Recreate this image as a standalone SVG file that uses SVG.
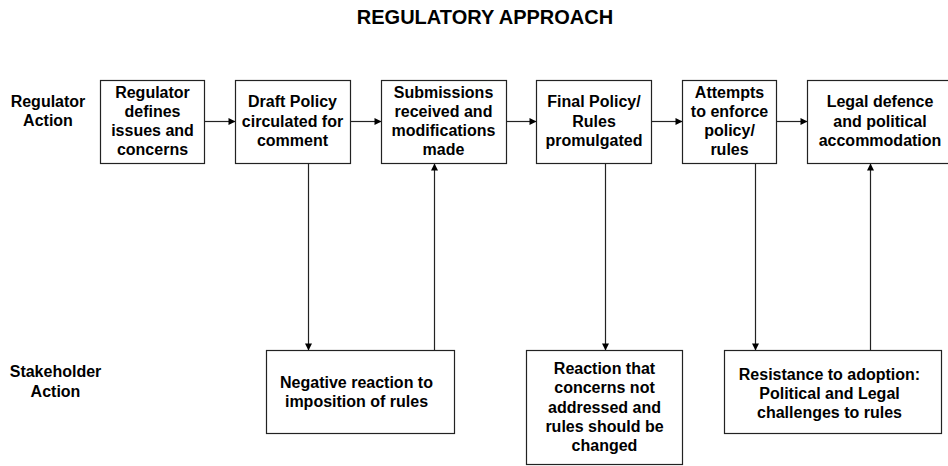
<svg xmlns="http://www.w3.org/2000/svg" width="948" height="466" viewBox="0 0 948 466">
<defs>
<style>
.box{fill:#fff;stroke:#222;stroke-width:1.2}
.t{font-family:"Liberation Sans",Arial,sans-serif;font-weight:bold;font-size:16px;fill:#000;text-anchor:middle}
.title{font-size:20px}
.c{fill:none;stroke:#222;stroke-width:1.2}
</style>
<marker id="ah" viewBox="0 0 10 10" refX="10" refY="5" markerWidth="8" markerHeight="7" markerUnits="userSpaceOnUse" orient="auto">
<path d="M0,0 L10,5 L0,10 z" fill="#000"/>
</marker>
</defs>
<rect width="948" height="466" fill="#fff"/>
<text class="t title" x="485" y="24">REGULATORY APPROACH</text>
<g id="label-regulator"><text class="t" x="48" y="106.7">Regulator</text><text class="t" x="48" y="126">Action</text></g>
<g id="label-stakeholder"><text class="t" x="55.5" y="376.7">Stakeholder</text><text class="t" x="55.5" y="396.7">Action</text></g>
<g id="connectors">
<line class="c" x1="204.5" y1="121.5" x2="235.5" y2="121.5" marker-end="url(#ah)"/>
<line class="c" x1="350.5" y1="121.5" x2="381.5" y2="121.5" marker-end="url(#ah)"/>
<line class="c" x1="506.5" y1="121.5" x2="536.5" y2="121.5" marker-end="url(#ah)"/>
<line class="c" x1="651.5" y1="121.5" x2="682.5" y2="121.5" marker-end="url(#ah)"/>
<line class="c" x1="776.5" y1="121.5" x2="807.5" y2="121.5" marker-end="url(#ah)"/>
<line class="c" x1="308.5" y1="163.5" x2="308.5" y2="350.5" marker-end="url(#ah)"/>
<line class="c" x1="434.5" y1="350.5" x2="434.5" y2="163.5" marker-end="url(#ah)"/>
<line class="c" x1="605.5" y1="163.5" x2="605.5" y2="350.5" marker-end="url(#ah)"/>
<line class="c" x1="755.5" y1="163.5" x2="755.5" y2="350.5" marker-end="url(#ah)"/>
<line class="c" x1="870.5" y1="350.5" x2="870.5" y2="163.5" marker-end="url(#ah)"/>
</g>
<g id="n1"><rect class="box" x="100.5" y="80.5" width="104" height="83"/>
<text class="t" x="152.5" y="97.7">Regulator</text><text class="t" x="152.5" y="116.7">defines</text><text class="t" x="152.5" y="136">issues and</text><text class="t" x="152.5" y="155">concerns</text></g>
<g id="n2"><rect class="box" x="235.5" y="80.5" width="115" height="83"/>
<text class="t" x="292.5" y="107.3">Draft Policy</text><text class="t" x="292.5" y="126.7">circulated for</text><text class="t" x="292.5" y="145.7">comment</text></g>
<g id="n3"><rect class="box" x="381.5" y="80.5" width="125" height="83"/>
<text class="t" x="443.5" y="97.7">Submissions</text><text class="t" x="443.5" y="116.7">received and</text><text class="t" x="443.5" y="136">modifications</text><text class="t" x="443.5" y="155">made</text></g>
<g id="n4"><rect class="box" x="536.5" y="80.5" width="115" height="83"/>
<text class="t" x="594" y="107.3">Final Policy/</text><text class="t" x="594" y="126.7">Rules</text><text class="t" x="594" y="145.7">promulgated</text></g>
<g id="n5"><rect class="box" x="682.5" y="80.5" width="94" height="83"/>
<text class="t" x="729.5" y="97.7">Attempts</text><text class="t" x="729.5" y="116.7">to enforce</text><text class="t" x="729.5" y="136">policy/</text><text class="t" x="729.5" y="155">rules</text></g>
<g id="n6"><rect class="box" x="807.5" y="80.5" width="150" height="83"/>
<text class="t" x="880" y="107.3">Legal defence</text><text class="t" x="880" y="126.7">and political</text><text class="t" x="880" y="145.7">accommodation</text></g>
<g id="s1"><rect class="box" x="266.5" y="350.5" width="188" height="83"/>
<text class="t" x="356.5" y="388.3">Negative reaction to</text><text class="t" x="356.5" y="407.3">imposition of rules</text></g>
<g id="s2"><rect class="box" x="526.5" y="350.5" width="156" height="114"/>
<text class="t" x="604.5" y="374">Reaction that</text><text class="t" x="604.5" y="393.3">concerns not</text><text class="t" x="604.5" y="412.7">addressed and</text><text class="t" x="604.5" y="431.7">rules should be</text><text class="t" x="604.5" y="450.7">changed</text></g>
<g id="s3"><rect class="box" x="724.5" y="350.5" width="217" height="83"/>
<text class="t" x="829.5" y="380">Resistance to adoption:</text><text class="t" x="829.5" y="399">Political and Legal</text><text class="t" x="829.5" y="418.3">challenges to rules</text></g>
</svg>
